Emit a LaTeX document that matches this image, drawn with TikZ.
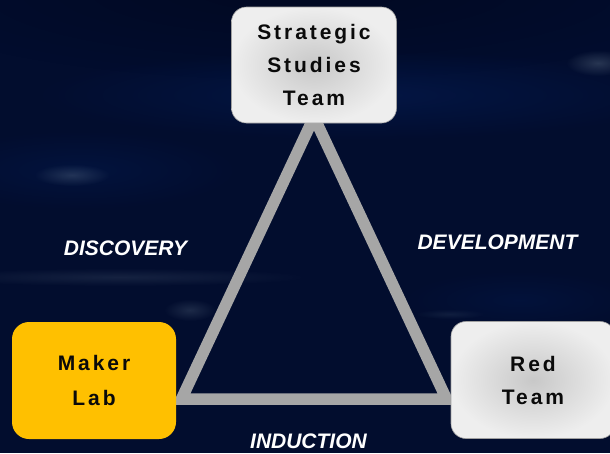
\documentclass[tikz,border=0pt]{standalone}
\usepackage{fontspec}
\setmainfont{Liberation Sans}
\newfontfamily\boxfont[LetterSpace=14]{Liberation Sans}
\usetikzlibrary{fadings}
\definecolor{bgnavy}{RGB}{2,13,46}
\definecolor{bgdark}{RGB}{1,9,34}
\definecolor{bgband}{RGB}{4,26,78}
\definecolor{glowgray}{RGB}{110,130,150}
\definecolor{linegray}{RGB}{166,166,166}
\definecolor{boxin}{RGB}{200,200,200}
\definecolor{boxout}{RGB}{238,238,238}
\definecolor{makeryellow}{RGB}{255,192,0}
\definecolor{textdark}{RGB}{10,10,10}
\tikzfading[name=glowfade, inner color=transparent!0, outer color=transparent!100]
\begin{document}
\begin{tikzpicture}[x=1pt,y=-1pt,
  graybox/.style={rounded corners=15pt, minimum width=165pt, minimum height=116pt,
    inner color=boxin, outer color=boxout, draw=boxin!80!black, line width=0.6pt,
    text=textdark, align=center,
    font=\boxfont\bfseries\fontsize{21}{33}\selectfont},
  makerbox/.style={rounded corners=17pt, minimum width=164pt, minimum height=117pt,
    fill=makeryellow, text=textdark, align=center,
    font=\boxfont\bfseries\fontsize{21}{35}\selectfont},
  sidelabel/.style={text=white, font=\bfseries\itshape\fontsize{21}{24}\selectfont},
  side/.style={draw=linegray, line width=11.5pt, line join=miter}
]
% background
\useasboundingbox (0,0) rectangle (610,453);
\fill[bgnavy] (0,0) rectangle (610,453);
\fill[bgdark, path fading=glowfade] (300,-10) ellipse [x radius=420, y radius=90];
\fill[bgband, path fading=glowfade, opacity=0.7] (360,95) ellipse [x radius=330, y radius=45];
\fill[bgband, path fading=glowfade, opacity=0.5] (80,170) ellipse [x radius=160, y radius=40];
\fill[glowgray, path fading=glowfade, opacity=0.3] (72,175) ellipse [x radius=38, y radius=11];
\fill[glowgray, path fading=glowfade, opacity=0.35] (598,63) ellipse [x radius=32, y radius=13];
\fill[glowgray, path fading=glowfade, opacity=0.18] (120,277) ellipse [x radius=190, y radius=9];
\fill[glowgray, path fading=glowfade, opacity=0.25] (190,310) ellipse [x radius=26, y radius=11];
\fill[glowgray, path fading=glowfade, opacity=0.15] (450,314) ellipse [x radius=35, y radius=5];
\fill[bgband, path fading=glowfade, opacity=0.4] (520,300) ellipse [x radius=120, y radius=30];

% triangle
\coordinate (va) at (314,117);
\coordinate (vb) at (181.5,399);
\coordinate (vc) at (446.5,399);
\draw[side] (va) -- (vb) -- (vc) -- cycle;

% boxes
\node[graybox] (sst) at (314,65) {Strategic\\Studies\\Team};
\node[makerbox] (maker) at (94,380.5) {Maker\\Lab};
\node[graybox, minimum width=164pt, minimum height=117pt] (red) at (533,380) {Red\\Team};

% labels
\node[sidelabel] (disc) at (125.5,248) {DISCOVERY};
\node[sidelabel] (dev) at (497.5,242) {DEVELOPMENT};
\node[sidelabel] (ind) at (308.5,441.5) {INDUCTION};
\end{tikzpicture}
\end{document}
